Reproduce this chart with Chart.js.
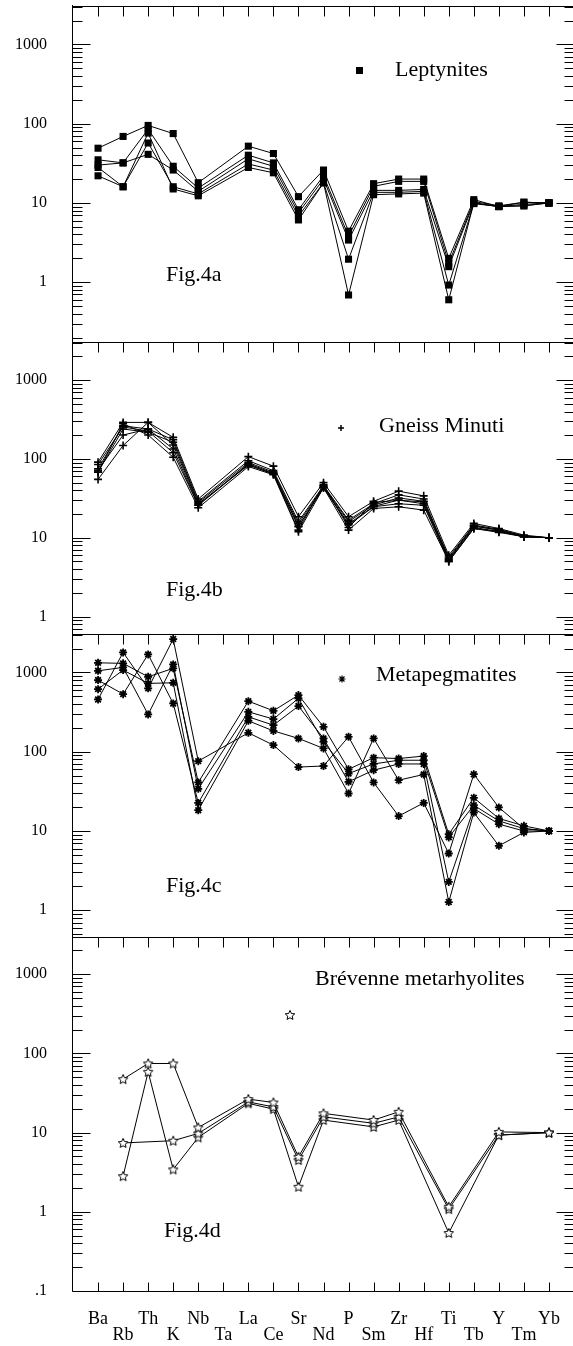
<!DOCTYPE html>
<html>
<head>
<meta charset="utf-8">
<script src="https://cdn.jsdelivr.net/npm/chart.js@4.4.1/dist/chart.umd.min.js"></script>
<style>
html,body{margin:0;padding:0;background:#fff;overflow:hidden;}
#wrap{position:relative;width:580px;height:1346px;}
canvas{display:block;}
</style>
</head>
<body>
<div id="wrap"><canvas id="c" width="580" height="1346"></canvas></div>
<script>
// ---- categories (x axis) ----
const categories = ['Ba','Rb','Th','K','Nb','Ta','La','Ce','Sr','Nd','P','Sm','Zr','Hf','Ti','Tb','Y','Tm','Yb'];

// ---- Fig.4a Leptynites ----
const lep1 = [49, 69, 95, 75, 18, null, 52, 42, 12, 26, 4.4, 17.5, 20, 20, 2.0, 11, 9.0, 10.2, 10];
const lep2 = [35, 32, 85, 29, 15.4, null, 40, 32, 8.2, 22, 3.8, 16.2, 18.7, 18.7, 1.74, 10.4, 9.2, 10.2, 10];
const lep3 = [30, 32, 41, 26, 14, null, 36, 29, 7.5, 20, 3.4, 14.4, 14.4, 14.8, 1.57, 10, 9.0, 9.6, 10];
const lep4 = [28, 16, 57, 16, 13, null, 31, 26, 6.8, 18, 1.95, 13.6, 13.6, 14, 0.92, 9.8, 9.0, 9.2, 10];
const lep5 = [22, 16, 76, 15, 12.3, null, 28, 24, 6.1, 17.9, 0.69, 12.7, 13, 13.3, 0.6, 10, 9.0, 9.2, 10];

// ---- Fig.4b Gneiss Minuti ----
const gm1 = [91, 291, 291, 188, 31, null, 107, 81, 18.5, 50, 18.5, 29, 39, 34, 6.0, 15.2, 13.1, 10.8, 10];
const gm2 = [75, 263, 240, 175, 29, null, 95, 71, 16, 46, 16.7, 27, 35, 31, 5.5, 14.2, 12.5, 10.5, 10];
const gm3 = [68, 240, 218, 163, 28, null, 90, 68, 15, 45, 16, 26, 32, 29, 5.3, 14, 12.5, 10.3, 10];
const gm4 = [72, 201, 240, 134, 26, null, 87, 66, 14, 44, 15, 25, 30, 27, 5.2, 13.5, 12, 10.3, 10];
const gm5 = [55, 148, 291, 150, 27, null, 83, 65, 13.8, 43, 14.5, 24.7, 27, 25.8, 5.0, 13.1, 11.7, 10.3, 10];
const gm6 = [68, 280, 201, 105, 24, null, 80, 63, 11.9, 43, 12.5, 23.5, 24.7, 22.4, 5.0, 13.1, 12, 10.3, 10];
const gm7 = [85, 255, 225, 120, 25.8, null, 85, 64, 12.5, 47, 13.5, 28, 29.9, 28.5, 5.7, 14.5, 12.8, 10.5, 10];

// ---- Fig.4c Metapegmatites ----
const mp1 = [1322, 1300, 880, 1125, 41, null, 434, 328, 517, 206, 60, 84, 82, 88, 9.1, 26.2, 14.4, 11.6, 10];
const mp2 = [1047, 1157, 295, 1262, 34, null, 318, 258, 470, 133, 53, 70, 78, 78, 8.3, 21.1, 13.4, 10.7, 10];
const mp3 = [800, 532, 1687, 406, 22.6, null, 275, 216, 376, 147, 41.7, 58.5, 70, 70, 2.28, 19.2, 12.2, 10, 10];
const mp4 = [615, 1071, 727, 739, 18.3, null, 245, 183, 147, 110, 29.7, 147, 43.7, 51.6, 1.27, 17.1, 6.5, 9.6, 10];
const mp5 = [456, 1787, 629, 2633, 76, null, 173, 121, 64, 66, 154, 41, 15.4, 22.6, 5.2, 52, 19.8, 10.7, 10];

// ---- Fig.4d Brévenne metarhyolites ----
const br1 = [null, 47.3, 74.6, 74.6, 11.6, null, 26.5, 24, 4.94, 17.5, null, 14.4, 18.3, null, 1.16, null, 10.2, null, 10];
const br2 = [null, 7.4, null, 7.9, 9.76, null, 24.4, 21.1, 4.5, 15.8, null, 13.1, 15.8, null, 1.08, null, 9.3, null, 10];
const br3 = [null, 2.82, 58.5, 3.43, 8.7, null, 23.4, 19.8, 2.07, 14.4, null, 11.8, 14.4, null, 0.54, null, 9.3, null, 10];

// ---- y-axis tick labels (decades) ----
const decadeLabels = { 1000: '1000', 100: '100', 10: '10', 1: '1', 0.1: '.1' };

// ---- panel texts ----
const panelTitles = ['Fig.4a', 'Fig.4b', 'Fig.4c', 'Fig.4d'];
const legendNames = ['Leptynites', 'Gneiss Minuti', 'Metapegmatites', 'Brévenne metarhyolites'];

// -------------------------------------------------------------
const FONT = '"Liberation Serif", "Times New Roman", serif';

function makeStar(r) {
  const s = Math.ceil(r * 2 + 4);
  const c = document.createElement('canvas');
  c.width = s; c.height = s;
  const g = c.getContext('2d');
  const cx = s / 2, cy = s / 2 + r * 0.08;
  g.beginPath();
  for (let k = 0; k < 10; k++) {
    const ang = -Math.PI / 2 + k * Math.PI / 5;
    const rr = (k % 2) ? r * 0.47 : r;
    g.lineTo(cx + rr * Math.cos(ang), cy + rr * Math.sin(ang));
  }
  g.closePath();
  g.fillStyle = '#fff'; g.fill();
  g.lineWidth = 1; g.strokeStyle = '#000'; g.stroke();
  return c;
}
const starImg = makeStar(5);

const panels = [
  { id: 'ya', series: [lep1, lep2, lep3, lep4, lep5], min: 0.176, max: 3050, h: 336, order: 4,
    pt: { pointStyle: 'rect', pointRadius: 5, pointBorderWidth: 0 } },
  { id: 'yb', series: [gm1, gm2, gm3, gm4, gm5, gm6, gm7], min: 0.64, max: 3050, h: 292, order: 3,
    pt: { pointStyle: 'cross', pointRadius: 4, pointBorderWidth: 1.6 } },
  { id: 'yc', series: [mp1, mp2, mp3, mp4, mp5], min: 0.46, max: 3050, h: 303, order: 2,
    pt: { pointStyle: 'star', pointRadius: 4, pointBorderWidth: 1.8 } },
  { id: 'yd', series: [br1, br2, br3], min: 0.1, max: 2950, h: 354, order: 1,
    pt: { pointStyle: starImg, pointRadius: 5, pointBorderWidth: 1 } }
];

const xLabels = [''].concat(categories, ['']);
const pad = a => [null].concat(a, [null]);

const datasets = [];
panels.forEach(p => {
  p.series.forEach(s => {
    datasets.push(Object.assign({
      data: pad(s),
      yAxisID: p.id,
      borderColor: '#000',
      borderWidth: 1,
      backgroundColor: '#000',
      pointBackgroundColor: '#000',
      pointBorderColor: '#000',
      pointHoverRadius: 4,
      spanGaps: true,
      tension: 0,
      fill: false
    }, p.pt));
  });
});

function logTicks(min, max) {
  const out = [];
  for (let e = Math.floor(Math.log10(min)); e <= Math.ceil(Math.log10(max)); e++) {
    for (let m = 1; m <= 9; m++) {
      const v = Number((m * Math.pow(10, e)).toPrecision(6));
      if (v >= min * 0.9999 && v <= max * 1.0001) out.push({ value: v, major: m === 1 });
    }
  }
  return out;
}
function isDecade(v) {
  const l = Math.log10(v);
  return Math.abs(l - Math.round(l)) < 1e-6;
}
function zeroPad(s) { s.paddingTop = 0; s.paddingBottom = 0; s.paddingLeft = 0; s.paddingRight = 0; }

const scales = {
  x: {
    type: 'category',
    labels: xLabels,
    offset: false,
    position: 'bottom',
    grid: { display: false, drawTicks: false },
    border: { display: false },
    ticks: {
      autoSkip: false, maxRotation: 0, minRotation: 0, padding: 20,
      color: '#000',
      font: { family: FONT, size: 18, lineHeight: '16px' },
      callback: function (v, i) {
        const lab = this.getLabelForValue(v);
        if (!lab) return '';
        return ((i - 1) % 2 === 1) ? ['', lab] : lab;
      }
    },
    afterFit: s => { s.height = 55; zeroPad(s); }
  }
};
panels.forEach(p => {
  scales[p.id] = {
    type: 'logarithmic',
    position: 'left',
    stack: 'panels',
    stackWeight: p.h,
    weight: p.order,
    min: p.min,
    max: p.max,
    grid: { display: false, drawTicks: false },
    border: { display: false },
    ticks: {
      autoSkip: false, padding: 26, color: '#000',
      font: { family: FONT, size: 16 },
      callback: v => (isDecade(v) && decadeLabels[Number(v.toPrecision(3))] !== undefined) ? decadeLabels[Number(v.toPrecision(3))] : ''
    },
    afterBuildTicks: s => { s.ticks = logTicks(s.min, s.max); },
    afterFit: s => { s.width = 73; zeroPad(s); }
  };
});

const framePlugin = {
  id: 'frame',
  beforeDatasetsDraw(chart) {
    const ctx = chart.ctx, ca = chart.chartArea, xs = chart.scales.x;
    const L = Math.round(ca.left) - 0.5, R = Math.round(ca.right) + 0.5;
    ctx.save();
    ctx.strokeStyle = '#000';
    ctx.lineWidth = 1;
    ctx.beginPath();
    ctx.moveTo(L, Math.round(ca.top) - 1); ctx.lineTo(L, Math.round(ca.bottom) + 0.5);
    ctx.moveTo(R, Math.round(ca.top) - 1); ctx.lineTo(R, Math.round(ca.bottom) + 0.5);
    const B = Math.round(ca.bottom) + 0.5;
    ctx.moveTo(L, B); ctx.lineTo(R, B);
    for (let i = 1; i <= categories.length; i++) {
      const x = Math.round(xs.getPixelForValue(i)) + 0.5;
      ctx.moveTo(x, B); ctx.lineTo(x, B - 9);
    }
    panels.forEach(p => {
      const ys = chart.scales[p.id];
      const T = Math.round(ys.top) + 0.5;
      ctx.moveTo(L, T); ctx.lineTo(R, T);
      for (let i = 1; i <= categories.length; i++) {
        const x = Math.round(xs.getPixelForValue(i)) + 0.5;
        ctx.moveTo(x, T); ctx.lineTo(x, T + 10);
      }
      ys.ticks.forEach(t => {
        const y = Math.round(ys.getPixelForValue(t.value)) + 0.5;
        const len = isDecade(t.value) ? 18 : 10;
        ctx.moveTo(L, y); ctx.lineTo(L + len, y);
        ctx.moveTo(R, y); ctx.lineTo(R - len, y);
      });
    });
    ctx.stroke();
    ctx.restore();
  },
  afterDraw(chart) {
    const ctx = chart.ctx;
    ctx.save();
    ctx.fillStyle = '#000';
    ctx.strokeStyle = '#000';
    ctx.font = '22px ' + FONT;
    ctx.textBaseline = 'alphabetic';
    ctx.textAlign = 'left';
    // panel titles
    ctx.fillText(panelTitles[0], 166, 281);
    ctx.fillText(panelTitles[1], 166, 596);
    ctx.fillText(panelTitles[2], 166, 892);
    ctx.fillText(panelTitles[3], 164, 1237);
    // legend names
    ctx.fillText(legendNames[0], 395, 76);
    ctx.fillText(legendNames[1], 379, 432);
    ctx.fillText(legendNames[2], 376, 681);
    ctx.fillText(legendNames[3], 315, 985);
    // legend markers
    ctx.fillRect(356, 67, 7, 7);
    ctx.lineWidth = 1.5;
    ctx.beginPath();
    ctx.moveTo(338, 428); ctx.lineTo(344, 428);
    ctx.moveTo(341, 425); ctx.lineTo(341, 431);
    ctx.stroke();
    ctx.lineWidth = 1.2;
    ctx.beginPath();
    const ax = 342, ay = 679, ar = 3.5;
    for (let k = 0; k < 4; k++) {
      const a = k * Math.PI / 4;
      ctx.moveTo(ax - ar * Math.cos(a), ay - ar * Math.sin(a));
      ctx.lineTo(ax + ar * Math.cos(a), ay + ar * Math.sin(a));
    }
    ctx.stroke();
    ctx.drawImage(starImg, 290 - starImg.width / 2, 1015 - starImg.height / 2);
    ctx.restore();
  }
};

new Chart(document.getElementById('c'), {
  type: 'line',
  data: { labels: xLabels, datasets },
  options: {
    responsive: false,
    animation: false,
    events: [],
    layout: { padding: { top: 6, right: 3, left: 0, bottom: 0 } },
    plugins: { legend: { display: false }, tooltip: { enabled: false }, title: { display: false } },
    scales
  },
  plugins: [framePlugin]
});
</script>
</body>
</html>
